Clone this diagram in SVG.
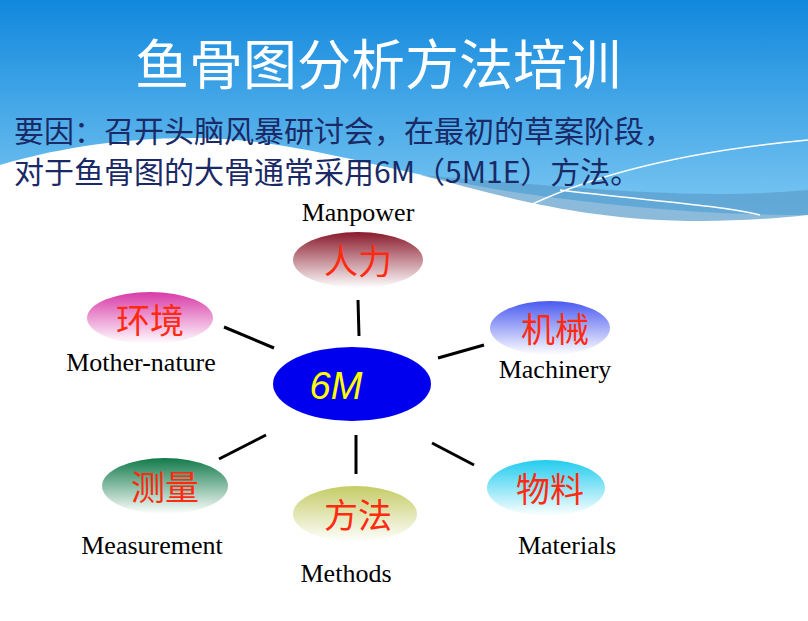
<svg xmlns="http://www.w3.org/2000/svg" width="808" height="621" viewBox="0 0 808 621">
<defs>
<linearGradient id="bg" x1="0" y1="0" x2="0" y2="1"><stop offset="0" stop-color="#1188dd"/><stop offset="1" stop-color="#7cc8f2"/></linearGradient>
<linearGradient id="g1" x1="0" y1="0" x2="0" y2="1"><stop offset="0" stop-color="#8a1a2c"/><stop offset="1" stop-color="#fff"/></linearGradient>
<linearGradient id="g2" x1="0" y1="0" x2="0" y2="1"><stop offset="0" stop-color="#d83aa8"/><stop offset="1" stop-color="#fff"/></linearGradient>
<linearGradient id="g3" x1="0" y1="0" x2="0" y2="1"><stop offset="0" stop-color="#4a5af0"/><stop offset="1" stop-color="#fff"/></linearGradient>
<linearGradient id="g4" x1="0" y1="0" x2="0" y2="1"><stop offset="0" stop-color="#127a4a"/><stop offset="1" stop-color="#fff"/></linearGradient>
<linearGradient id="g5" x1="0" y1="0" x2="0" y2="1"><stop offset="0" stop-color="#c4cc66"/><stop offset="1" stop-color="#fff"/></linearGradient>
<linearGradient id="g6" x1="0" y1="0" x2="0" y2="1"><stop offset="0" stop-color="#22ccee"/><stop offset="1" stop-color="#fff"/></linearGradient>
<style>
.cn{font-family:"Noto Sans CJK SC",sans-serif;font-size:34px;fill:#ff2a10;text-anchor:middle}
.en{font-family:"Liberation Serif",serif;font-size:26px;fill:#000;text-anchor:middle}
.ln{stroke:#000;stroke-width:3}
</style>
</defs>
<rect width="808" height="621" fill="#fff"/>
<path d="M0,0H808V215C700,215 600,205 500,190C380,170 300,140 200,138C120,137 50,150 0,165Z" fill="url(#bg)"/>
<path d="M420,175C520,200 620,235 808,215V190C700,200 600,190 420,175Z" fill="#5a9ccc" opacity="0.7"/>
<path d="M520,210C600,170 700,150 808,140" stroke="#fff" stroke-width="1.5" fill="none"/>
<path d="M560,190C640,200 720,205 760,215" stroke="#fff" stroke-width="1.5" fill="none"/>
<text x="378" y="85" font-family="Noto Sans CJK SC,sans-serif" font-size="54" fill="#fff" text-anchor="middle">鱼骨图分析方法培训</text>
<g font-family="Noto Sans CJK SC,sans-serif" font-size="30" fill="#1a2a66">
<text x="14" y="142">要因：召开头脑风暴研讨会，在最初的草案阶段，</text>
<text x="14" y="183">对于鱼骨图的大骨通常采用6M（5M1E）方法。</text>
</g>
<g id="connectors">
<line class="ln" x1="358" y1="300" x2="359" y2="336"/>
<line class="ln" x1="224" y1="327" x2="274" y2="348"/>
<line class="ln" x1="438" y1="358" x2="484" y2="345"/>
<line class="ln" x1="266" y1="435" x2="219" y2="459"/>
<line class="ln" x1="356" y1="435" x2="356" y2="474"/>
<line class="ln" x1="432" y1="443" x2="474" y2="465"/>
</g>
<g id="center"><ellipse cx="352" cy="384" rx="79" ry="37" fill="#0000ee"/><text x="336" y="399" font-family="Liberation Sans,sans-serif" font-style="italic" font-size="38" fill="#ffff00" text-anchor="middle">6M</text></g>
<g id="manpower"><ellipse cx="358" cy="260" rx="65" ry="28" fill="url(#g1)"/><text class="cn" x="358" y="274">人力</text><text class="en" x="358" y="221">Manpower</text></g>
<g id="mother"><ellipse cx="150" cy="318" rx="63" ry="26" fill="url(#g2)"/><text class="cn" x="150" y="333">环境</text><text class="en" x="141" y="371">Mother-nature</text></g>
<g id="machinery"><ellipse cx="550" cy="328" rx="60" ry="27" fill="url(#g3)"/><text class="cn" x="555" y="342">机械</text><text class="en" x="555" y="378">Machinery</text></g>
<g id="measurement"><ellipse cx="165" cy="486" rx="63" ry="28" fill="url(#g4)"/><text class="cn" x="165" y="500">测量</text><text class="en" x="152" y="554">Measurement</text></g>
<g id="methods"><ellipse cx="355" cy="514" rx="62" ry="28" fill="url(#g5)"/><text class="cn" x="358" y="528">方法</text><text class="en" x="346" y="582">Methods</text></g>
<g id="materials"><ellipse cx="546" cy="488" rx="59" ry="28" fill="url(#g6)"/><text class="cn" x="550" y="502">物料</text><text class="en" x="567" y="554">Materials</text></g>
</svg>
